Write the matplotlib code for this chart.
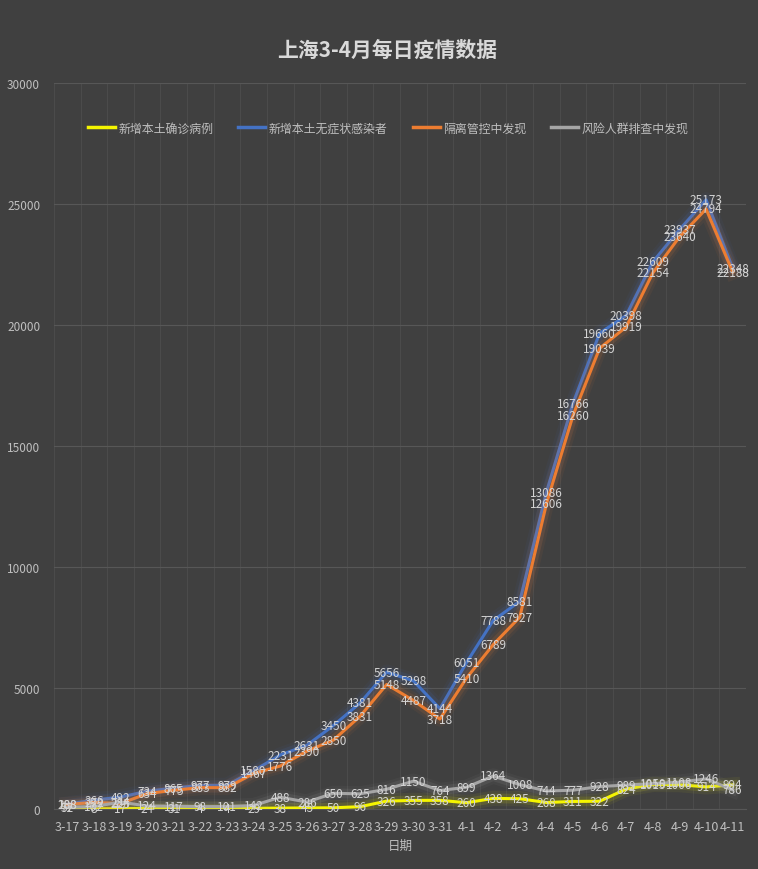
import matplotlib
matplotlib.use("Agg")
import matplotlib.pyplot as plt
import matplotlib.patheffects as pe
import numpy as np

plt.rcParams['font.family'] = ['Noto Sans CJK SC', 'DejaVu Sans']

# --- data ---
dates = ['3-17', '3-18', '3-19', '3-20', '3-21', '3-22', '3-23', '3-24', '3-25',
         '3-26', '3-27', '3-28', '3-29', '3-30', '3-31', '4-1', '4-2', '4-3',
         '4-4', '4-5', '4-6', '4-7', '4-8', '4-9', '4-10', '4-11']
confirmed = [57, 8, 17, 24, 31, 4, 4, 29, 38, 45, 50, 96, 326, 355, 358, 260,
             438, 425, 268, 311, 322, 824, 1015, 1006, 914, 994]
asymptomatic = [203, 366, 492, 734, 865, 977, 979, 1580, 2231, 2631, 3450, 4381,
                5656, 5298, 4144, 6051, 7788, 8581, 13086, 16766, 19660, 20398,
                22609, 23937, 25173, 22348]
quarantine = [188, 272, 225, 634, 775, 883, 882, 1467, 1776, 2390, 2850, 3831,
              5148, 4487, 3718, 5410, 6789, 7927, 12606, 16260, 19039, 19919,
              22154, 23640, 24794, 22188]
screening = [72, 102, 284, 124, 117, 98, 101, 142, 488, 286, 650, 625, 816, 1150,
             764, 899, 1364, 1008, 744, 777, 928, 989, 1050, 1108, 1246, 786]

series = [
    ('新增本土确诊病例', confirmed, '#f5f500'),
    ('新增本土无症状感染者', asymptomatic, '#4472c4'),
    ('隔离管控中发现', quarantine, '#ed7d31'),
    ('风险人群排查中发现', screening, '#a5a5a5'),
]

BG = '#404040'
TXT = '#bfbfbf'
GRID = '#575757'

fig = plt.figure(figsize=(7.58, 8.7), dpi=100, facecolor=BG)
ax = fig.add_axes([54 / 758, 1 - 810 / 870, 692 / 758, 726 / 870], facecolor=BG)

x = np.arange(len(dates))
handles = []
for name, vals, col in series:
    glow = [pe.Stroke(linewidth=11, foreground=col, alpha=0.06),
            pe.Stroke(linewidth=7, foreground=col, alpha=0.12),
            pe.Normal()]
    ln, = ax.plot(x, vals, color=col, lw=2.2, solid_joinstyle='round',
                  path_effects=glow, label=name, zorder=3)
    handles.append(ln)

# data labels centred on the points
for name, vals, col in series:
    for xi, v in zip(x, vals):
        ax.text(xi, v, str(v), ha='center', va='center', fontsize=8.5,
                color='#d4d4d4', zorder=5)

ax.set_xlim(-0.5, len(dates) - 0.5)
ax.set_ylim(0, 30000)
ax.set_yticks(np.arange(0, 30001, 5000))
ax.set_xticks(x)
ax.set_xticklabels(dates)
ax.set_xticks(np.arange(-0.5, len(dates), 1), minor=True)
ax.tick_params(axis='both', which='both', length=0, colors=TXT, labelsize=8.5)
ax.tick_params(axis='x', labelsize=9, pad=8)
ax.tick_params(axis='y', pad=10)
ax.grid(True, axis='y', which='major', color=GRID, lw=0.8)
ax.grid(True, axis='x', which='minor', color=GRID, lw=0.6, alpha=0.6)
ax.set_axisbelow(True)
for s in ['left', 'right', 'top']:
    ax.spines[s].set_visible(False)
ax.spines['bottom'].set_color(GRID)

ax.set_xlabel('日期', color=TXT, fontsize=9, labelpad=4)

leg = ax.legend(handles=handles, loc='upper center', bbox_to_anchor=(0.483, 0.962),
                ncol=4, frameon=False, fontsize=8.6, handlelength=2.25,
                columnspacing=2.1, handletextpad=0.3, labelcolor=TXT)
for h in leg.legend_handles:
    h.set_path_effects([])
    h.set_linewidth(2.5)

fig.text(387 / 758, 1 - 50 / 870, '上海3-4月每日疫情数据', ha='center', va='center',
         fontsize=15, fontweight='bold', color='#d9d9d9')

fig.savefig('out.png', dpi=100, facecolor=BG)
